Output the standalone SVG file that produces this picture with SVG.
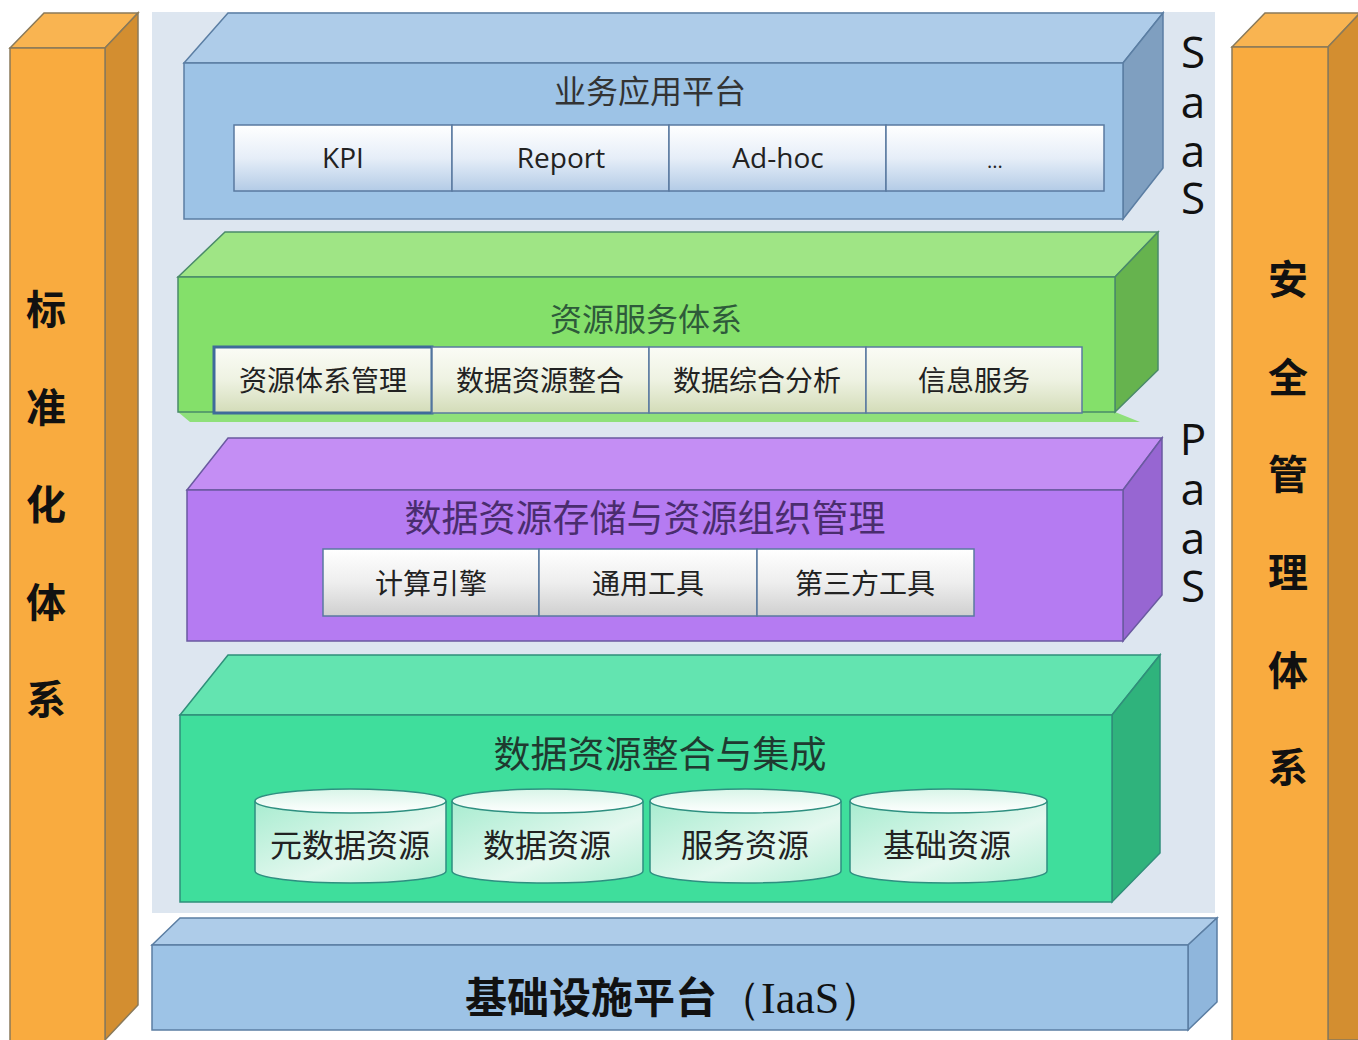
<svg xmlns="http://www.w3.org/2000/svg" width="1358" height="1040" viewBox="0 0 1358 1040">
<defs>
<linearGradient id="gBlueBox" x1="0" y1="0" x2="0" y2="1"><stop offset="0" stop-color="#ffffff"/><stop offset="0.5" stop-color="#e6eef8"/><stop offset="1" stop-color="#b3cbe6"/></linearGradient>
<linearGradient id="gGreenBox" x1="0" y1="0" x2="0" y2="1"><stop offset="0" stop-color="#fbfcf6"/><stop offset="0.5" stop-color="#eef2e2"/><stop offset="1" stop-color="#d3dcb8"/></linearGradient>
<linearGradient id="gGrayBox" x1="0" y1="0" x2="0" y2="1"><stop offset="0" stop-color="#ffffff"/><stop offset="0.5" stop-color="#eeeeee"/><stop offset="1" stop-color="#cfcfcf"/></linearGradient>
<linearGradient id="gCyl" x1="0" y1="0" x2="1" y2="1"><stop offset="0" stop-color="#a8ecd0"/><stop offset="0.6" stop-color="#e4f8ef"/><stop offset="1" stop-color="#b6efd6"/></linearGradient>
<linearGradient id="gCylTop" x1="0" y1="0" x2="0" y2="1"><stop offset="0" stop-color="#d8f5e8"/><stop offset="1" stop-color="#ffffff"/></linearGradient>
<style>
.cn{font-family:"Noto Sans CJK SC","Noto Sans",sans-serif;}
.lat{font-family:"Open Sans","Liberation Sans",sans-serif;}
.pillarF{fill:#f9ab3f;stroke:#8a7a5a;stroke-width:1.5;}
.pillarT{fill:#f9b451;stroke:#8a7a5a;stroke-width:1.5;}
.pillarS{fill:#d38e30;stroke:#8a7a5a;stroke-width:1.5;}
.pillarTxt{font-size:40px;font-weight:bold;fill:#111;text-anchor:middle;}
.vert{font-size:44px;fill:#111;text-anchor:middle;}
.bF{fill:#9dc3e6;stroke:#5b7ea3;stroke-width:1.5;}
.bT{fill:#aecce9;stroke:#5b7ea3;stroke-width:1.5;}
.bS{fill:#7f9fc0;stroke:#5b7ea3;stroke-width:1.5;}
.gF{fill:#84e06a;stroke:#4a8a6a;stroke-width:1.5;}
.gT{fill:#9fe585;stroke:#4a8a6a;stroke-width:1.5;}
.gS{fill:#66b34e;stroke:#4a8a6a;stroke-width:1.5;}
.pF{fill:#b57bf2;stroke:#6a5aa0;stroke-width:1.5;}
.pT{fill:#c48ef4;stroke:#6a5aa0;stroke-width:1.5;}
.pS{fill:#9766d2;stroke:#6a5aa0;stroke-width:1.5;}
.tF{fill:#3fde9c;stroke:#2f8f7a;stroke-width:1.5;}
.tT{fill:#63e4b0;stroke:#2f8f7a;stroke-width:1.5;}
.tS{fill:#2fb37c;stroke:#2f8f7a;stroke-width:1.5;}
.box{stroke:#5a7aa0;stroke-width:1.5;}
.boxTxt{font-size:28px;fill:#222;text-anchor:middle;}
.title{text-anchor:middle;}
.cylB{fill:url(#gCyl);stroke:#2e8f80;stroke-width:1.5;}
.cylT{fill:url(#gCylTop);stroke:#2e8f80;stroke-width:1.5;}
</style>
</defs>
<rect x="0" y="0" width="1358" height="1040" fill="#ffffff"/>
<rect id="panel" x="152" y="12" width="1063" height="901" fill="#dde6f0"/>

<g id="pillar-left">
<polygon class="pillarT" points="10,48 44,13 138,13 105,48"/>
<polygon class="pillarS" points="105,48 138,13 138,1005 105,1040"/>
<rect class="pillarF" x="10" y="48" width="95" height="1000"/>
<text class="cn pillarTxt" x="46" y="324">标</text>
<text class="cn pillarTxt" x="46" y="422">准</text>
<text class="cn pillarTxt" x="46" y="519">化</text>
<text class="cn pillarTxt" x="46" y="617">体</text>
<text class="cn pillarTxt" x="46" y="714">系</text>
</g>

<g id="pillar-right">
<polygon class="pillarT" points="1232,47 1265,13 1360,13 1328,47"/>
<polygon class="pillarS" points="1328,47 1360,13 1360,1040 1328,1040"/>
<rect class="pillarF" x="1232" y="47" width="96" height="1000"/>
<text class="cn pillarTxt" x="1288" y="294">安</text>
<text class="cn pillarTxt" x="1288" y="392">全</text>
<text class="cn pillarTxt" x="1288" y="489">管</text>
<text class="cn pillarTxt" x="1288" y="587">理</text>
<text class="cn pillarTxt" x="1288" y="685">体</text>
<text class="cn pillarTxt" x="1288" y="782">系</text>
</g>

<g id="saas-label">
<text class="lat vert"><tspan x="1193" y="68">S</tspan><tspan x="1193" y="118">a</tspan><tspan x="1193" y="167">a</tspan><tspan x="1193" y="214">S</tspan></text>
</g>
<g id="paas-label">
<text class="lat vert"><tspan x="1193" y="455">P</tspan><tspan x="1193" y="505">a</tspan><tspan x="1193" y="554">a</tspan><tspan x="1193" y="602">S</tspan></text>
</g>

<g id="layer-saas">
<polygon class="bT" points="184,63 228,13 1163,13 1123,63"/>
<polygon class="bS" points="1123,63 1163,13 1163,168 1123,219"/>
<rect class="bF" x="184" y="63" width="939" height="156"/>
<text class="cn title" x="650" y="103" font-size="32" fill="#333">业务应用平台</text>
<g id="box-kpi"><rect class="box" x="234" y="125" width="218" height="66" fill="url(#gBlueBox)"/><text class="lat boxTxt" x="343" y="168">KPI</text></g>
<g id="box-report"><rect class="box" x="452" y="125" width="217" height="66" fill="url(#gBlueBox)"/><text class="lat boxTxt" x="561" y="168">Report</text></g>
<g id="box-adhoc"><rect class="box" x="669" y="125" width="217" height="66" fill="url(#gBlueBox)"/><text class="lat boxTxt" x="778" y="168">Ad-hoc</text></g>
<g id="box-more"><rect class="box" x="886" y="125" width="218" height="66" fill="url(#gBlueBox)"/><text class="lat" x="995" y="168" font-size="20" fill="#222" text-anchor="middle">...</text></g>
</g>

<g id="layer-resource-service">
<polygon points="178,412 1115,412 1140,422 190,422" fill="#8fe07a"/>
<polygon class="gT" points="178,277 225,232 1158,232 1115,277"/>
<polygon class="gS" points="1115,277 1158,232 1158,370 1115,412"/>
<rect class="gF" x="178" y="277" width="937" height="135"/>
<text class="cn title" x="646" y="331" font-size="32" fill="#2e5a3a">资源服务体系</text>
<g id="box-rs1"><rect x="214" y="347" width="218" height="66" fill="url(#gGreenBox)" stroke="#3f6a9a" stroke-width="3"/><text class="cn boxTxt" x="323" y="391">资源体系管理</text></g>
<g id="box-rs2"><rect class="box" x="432" y="347" width="217" height="66" fill="url(#gGreenBox)"/><text class="cn boxTxt" x="540" y="391">数据资源整合</text></g>
<g id="box-rs3"><rect class="box" x="649" y="347" width="217" height="66" fill="url(#gGreenBox)"/><text class="cn boxTxt" x="757" y="391">数据综合分析</text></g>
<g id="box-rs4"><rect class="box" x="866" y="347" width="216" height="66" fill="url(#gGreenBox)"/><text class="cn boxTxt" x="974" y="391">信息服务</text></g>
</g>

<g id="layer-storage">
<polygon class="pT" points="187,490 228,438 1162,438 1123,490"/>
<polygon class="pS" points="1123,490 1162,438 1162,595 1123,641"/>
<rect class="pF" x="187" y="490" width="936" height="151"/>
<text class="cn title" x="645" y="532" font-size="37" fill="#4a2d6e">数据资源存储与资源组织管理</text>
<g id="box-st1"><rect class="box" x="323" y="549" width="216" height="67" fill="url(#gGrayBox)"/><text class="cn boxTxt" x="431" y="594">计算引擎</text></g>
<g id="box-st2"><rect class="box" x="539" y="549" width="218" height="67" fill="url(#gGrayBox)"/><text class="cn boxTxt" x="648" y="594">通用工具</text></g>
<g id="box-st3"><rect class="box" x="757" y="549" width="217" height="67" fill="url(#gGrayBox)"/><text class="cn boxTxt" x="865" y="594">第三方工具</text></g>
</g>

<g id="layer-integration">
<polygon class="tT" points="180,715 228,655 1160,655 1112,715"/>
<polygon class="tS" points="1112,715 1160,655 1160,853 1112,902"/>
<rect class="tF" x="180" y="715" width="932" height="187"/>
<text class="cn title" x="660" y="768" font-size="37" fill="#1f3a30">数据资源整合与集成</text>
<g id="cyl1"><path class="cylB" d="M255,801 L255,871 A95.5,12 0 0 0 446,871 L446,801"/><ellipse class="cylT" cx="350.5" cy="801" rx="95.5" ry="12"/><text class="cn" x="350" y="857" font-size="32" fill="#222" text-anchor="middle">元数据资源</text></g>
<g id="cyl2"><path class="cylB" d="M452,801 L452,871 A95.5,12 0 0 0 643,871 L643,801"/><ellipse class="cylT" cx="547.5" cy="801" rx="95.5" ry="12"/><text class="cn" x="547" y="857" font-size="32" fill="#222" text-anchor="middle">数据资源</text></g>
<g id="cyl3"><path class="cylB" d="M650,801 L650,871 A95.5,12 0 0 0 841,871 L841,801"/><ellipse class="cylT" cx="745.5" cy="801" rx="95.5" ry="12"/><text class="cn" x="745" y="857" font-size="32" fill="#222" text-anchor="middle">服务资源</text></g>
<g id="cyl4"><path class="cylB" d="M850,801 L850,871 A98.5,12 0 0 0 1047,871 L1047,801"/><ellipse class="cylT" cx="948.5" cy="801" rx="98.5" ry="12"/><text class="cn" x="947" y="857" font-size="32" fill="#222" text-anchor="middle">基础资源</text></g>
</g>

<g id="layer-iaas">
<polygon class="bT" points="152,945 180,918 1217,918 1188,945"/>
<polygon class="bS" points="1188,945 1217,918 1217,1002 1188,1030" style="fill:#8fb6dc"/>
<rect class="bF" x="152" y="945" width="1036" height="85"/>
<text x="465" y="1013" fill="#111"><tspan class="cn" font-size="42" font-weight="bold">基础设施平台</tspan><tspan font-family="'Liberation Serif','DejaVu Serif',serif" font-size="44">（IaaS）</tspan></text>
</g>
</svg>
